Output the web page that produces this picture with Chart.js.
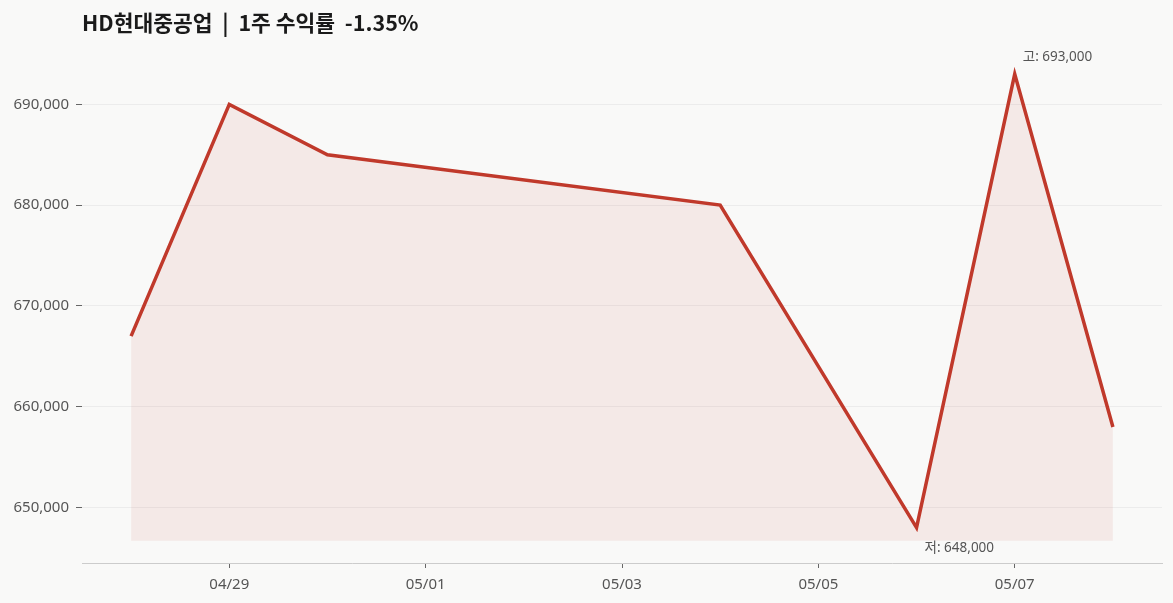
<!DOCTYPE html>
<html>
<head>
<meta charset="utf-8">
<script src="https://cdn.jsdelivr.net/npm/chart.js@4/dist/chart.umd.min.js"></script>
<style>
  html, body { margin: 0; padding: 0; background: #f9f9f8; }
  #wrap { width: 1173px; height: 603px; position: relative; }
</style>
</head>
<body>
<div id="wrap"><canvas id="c" width="1173" height="603"></canvas></div>
<script>
// Day offsets from 04/28
const dayOffsets = [0, 1, 2, 6, 8, 9, 10];
const prices = [667000, 690000, 685000, 680000, 648000, 693000, 658000];
const tickDays = [1, 3, 5, 7, 9];
const tickLabels = ['04/29', '05/01', '05/03', '05/05', '05/07'];
const titleText = 'HD현대중공업  |  1주 수익률  -1.35%';
const highLabel = '고: 693,000';
const lowLabel = '저: 648,000';

const FONT = "'Noto Sans', 'Noto Sans CJK KR', sans-serif";
const TITLE_FONT = "'Noto Sans CJK KR', 'Noto Sans', sans-serif";
const points = dayOffsets.map((d, i) => ({ x: d, y: prices[i] }));
const maxIdx = prices.indexOf(Math.max(...prices));
const minIdx = prices.indexOf(Math.min(...prices));

const annotatePlugin = {
  id: 'hiLo',
  afterDatasetsDraw(chart) {
    const ctx = chart.ctx;
    const meta = chart.getDatasetMeta(0);
    ctx.save();
    ctx.font = "13.5px " + FONT;
    ctx.fillStyle = '#555555';
    ctx.textAlign = 'left';
    ctx.textBaseline = 'middle';
    const pH = meta.data[maxIdx];
    ctx.fillText(highLabel, pH.x + 8, pH.y - 17);
    const pL = meta.data[minIdx];
    ctx.fillText(lowLabel, pL.x + 8, pL.y + 20);
    ctx.restore();
  }
};

new Chart(document.getElementById('c'), {
  type: 'line',
  data: {
    datasets: [{
      data: points,
      borderColor: '#c0392b',
      borderWidth: 3.5,
      backgroundColor: 'rgba(192,57,43,0.08)',
      fill: { value: 646700 },
      pointRadius: 0,
      tension: 0
    }]
  },
  options: {
    responsive: false,
    animation: false,
    layout: { padding: { left: 0, right: 11, top: 0, bottom: 0 } },
    plugins: {
      legend: { display: false },
      tooltip: { enabled: false },
      title: {
        display: true,
        text: titleText,
        align: 'start',
        fullSize: false,
        color: '#1a1a1a',
        font: { family: TITLE_FONT, size: 21.5, weight: 'bold', lineHeight: 1.2 },
        padding: { top: 10, bottom: 3 }
      }
    },
    scales: {
      x: {
        type: 'linear',
        min: -0.5,
        max: 10.5,
        afterBuildTicks(scale) { scale.ticks = tickDays.map(v => ({ value: v })); },
        afterFit(scale) { scale.height = 40; },
        ticks: {
          autoSkip: false,
          maxRotation: 0,
          color: '#555555',
          font: { family: FONT, size: 15 },
          padding: 8,
          callback(v) { const i = tickDays.indexOf(v); return i >= 0 ? tickLabels[i] : ''; }
        },
        grid: { drawOnChartArea: false, drawTicks: true, tickLength: 5, tickColor: '#666666' },
        border: { display: true, color: '#cccccc', width: 1 }
      },
      y: {
        min: 644500,
        max: 696500,
        afterBuildTicks(scale) {
          const t = [];
          for (let v = 650000; v <= 690000; v += 10000) t.push({ value: v });
          scale.ticks = t;
        },
        afterFit(scale) { scale.width = 82; },
        ticks: {
          color: '#555555',
          font: { family: FONT, size: 15 },
          padding: 7,
          callback(v) { return v.toLocaleString('en-US'); }
        },
        grid: { color: '#ececec', lineWidth: 1, tickLength: 6, tickColor: '#666666' },
        border: { display: false }
      }
    }
  },
  plugins: [annotatePlugin]
});
</script>
</body>
</html>
